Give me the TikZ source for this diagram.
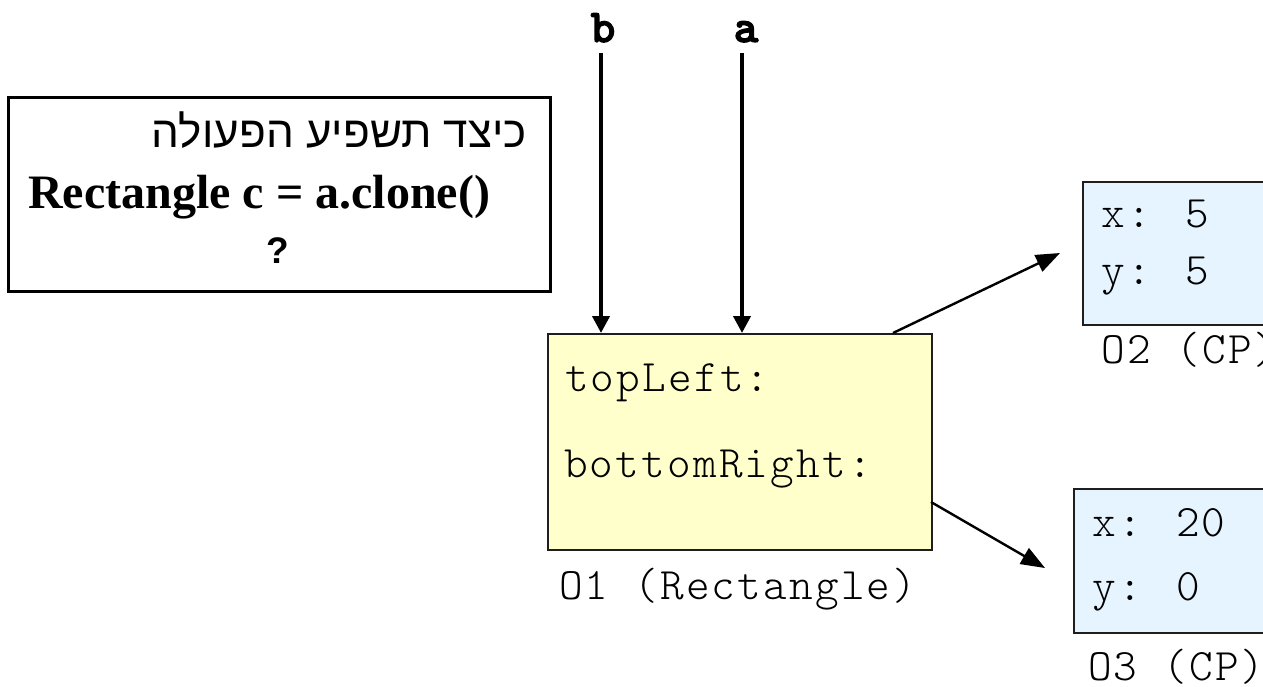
\documentclass[tikz,border=0pt]{standalone}
\usepackage{fontspec}
\usetikzlibrary{arrows.meta}
\TeXXeTstate=1
\newfontfamily\courfont{Latin Modern Mono Light}[LetterSpace=4.9]
\newfontfamily\courbold{Latin Modern Mono Light}[BoldFeatures={FakeBold=2.5}]
\newfontfamily\hebfont[Script=Hebrew]{Liberation Sans}
\newfontfamily\serfont{Liberation Serif}
\newfontfamily\sansfont{Liberation Sans}
\definecolor{objyellow}{RGB}{255,255,204}
\definecolor{objblue}{RGB}{230,244,255}
\definecolor{boxline}{RGB}{30,30,30}
\tikzset{
  objbox/.style={draw=boxline, line width=1.8pt, inner sep=0pt, anchor=north west},
  monotext/.style={inner sep=0pt, anchor=base west, font=\fontsize{45}{45}\courfont},
  reflabel/.style={inner sep=0pt, anchor=base, font=\fontsize{47}{47}\courbold\bfseries},
  refarrow/.style={line width=4pt, -{Triangle[length=17pt,width=17pt]}},
  ptrarrow/.style={line width=2.4pt, -{Triangle[length=24pt,width=18pt]}},
}
\begin{document}
\begin{tikzpicture}[x=1pt,y=-1pt]
\useasboundingbox (0,0) rectangle (1263,686);
\clip (0,0) rectangle (1263,686);
\fill[white] (0,0) rectangle (1263,686);
% question box
\node[draw=black, line width=2.6pt, inner sep=0pt, anchor=north west,
      minimum width=542pt, minimum height=194pt] (q) at (7,96) {};
\node[inner sep=0pt, anchor=base east, font=\fontsize{44}{44}\hebfont] (qheb) at (527,147)
  {\beginR כיצד תשפיע הפעולה\endR};
\node[inner sep=0pt, anchor=base west, font=\fontsize{48}{48}\serfont\bfseries] (qcode) at (28,208)
  {Rectangle c = a.clone()};
\node[inner sep=0pt, anchor=base, font=\fontsize{37}{37}\sansfont\bfseries] (qmark) at (278,263) {?};
% O1 rectangle object
\node[objbox, fill=objyellow, minimum width=384pt, minimum height=216pt] (O1) at (547,333) {};
\node[monotext] (tl) at (565,391) {topLeft:};
\node[monotext] (br) at (564,477) {bottomRight:};
\node[monotext] (O1lab) at (559,599) {O1 (Rectangle)};
% O2
\node[objbox, fill=objblue, minimum width=260pt, minimum height=143pt] (O2) at (1082,181) {};
\node[monotext] (O2x) at (1101,227) {x: 5};
\node[monotext] (O2y) at (1101,284) {y: 5};
\node[monotext] (O2lab) at (1101,363) {O2 (CP)};
% O3
\node[objbox, fill=objblue, minimum width=260pt, minimum height=144pt] (O3) at (1073,488) {};
\node[monotext] (O3x) at (1092,536) {x: 20};
\node[monotext] (O3y) at (1092,600) {y: 0};
\node[monotext] (O3lab) at (1088,680) {O3 (CP)};
% references b and a
\node[reflabel] (blab) at (603,42) {b};
\node[reflabel] (alab) at (746,42) {a};
\coordinate (bstart) at (601,53);
\coordinate (astart) at (742,53);
\draw[refarrow] (bstart) -- (bstart |- O1.north);
\draw[refarrow] (astart) -- (astart |- O1.north);
% pointers
\coordinate (tlstart) at (893,333);
\coordinate (tlend) at (1060,253);
\coordinate (brstart) at (931,502);
\coordinate (brend) at (1045,568);
\draw[ptrarrow] (tlstart) -- (tlend);
\draw[ptrarrow] (brstart) -- (brend);
\end{tikzpicture}
\end{document}
